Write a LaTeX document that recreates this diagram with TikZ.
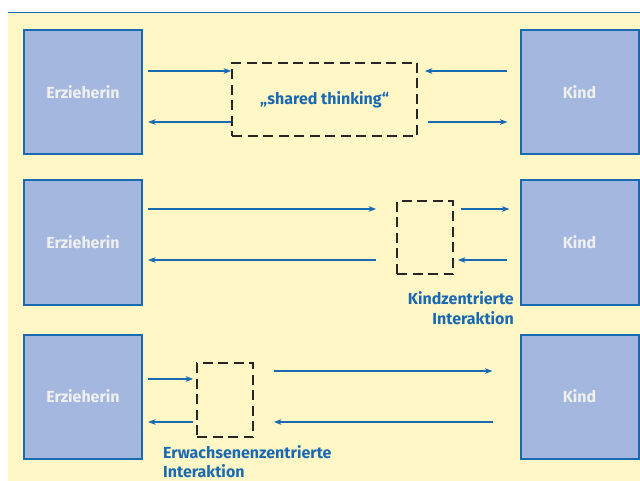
\documentclass[tikz,border=0pt]{standalone}
\usepackage{fontspec}
\setmainfont{Fira Sans}
\usetikzlibrary{arrows.meta}
\definecolor{panelyellow}{HTML}{FFF8C6}
\definecolor{boxblue}{HTML}{A4B7DE}
\definecolor{lineblue}{HTML}{1A69B3}
\begin{document}
\begin{tikzpicture}[x=1pt,y=-1pt,
    person/.style={draw=lineblue, line width=2pt, fill=boxblue,
      minimum width=118pt, minimum height=124pt, inner sep=0pt,
      text=white!94!black, font=\bfseries\fontsize{16}{19}\selectfont},
    zone/.style={draw=black!85, line width=1.6pt, dash pattern=on 10pt off 5.5pt,
      inner sep=0pt},
    flow/.style={-{Stealth[length=7.5pt,width=5.5pt,inset=2pt]}, lineblue,
      line width=1.4pt},
    caption/.style={text=lineblue, inner sep=0pt,
      font=\bfseries\fontsize{16}{19.5}\selectfont}]
  \useasboundingbox (0,0) rectangle (640,481);
  % panel
  \fill[panelyellow] (8,13) rectangle (640,481);
  \draw[lineblue, line width=1.5pt] (8,12.5) -- (640,12.5);
  % the two sides, one row per kind of interaction
  \foreach \r/\y in {1/92,2/242.5,3/396.5}{
    \node[person] (e\r) at (83,\y) {Erzieherin};
    \node[person] (k\r) at (579.5,\y) {Kind};
  }
  % shared zones
  \node[zone, minimum width=185pt, minimum height=73pt, text=lineblue,
    font=\bfseries\fontsize{16}{19}\selectfont] (s1) at (324.5,99.5)
    {„shared thinking“};
  \node[zone, minimum width=56pt, minimum height=73pt] (s2) at (425,237.5) {};
  \node[zone, minimum width=56pt, minimum height=74pt] (s3) at (225,400) {};
  % row 1
  \draw[flow, shorten <=5pt] (e1.east |- 0,71) -- (s1.west |- 0,71);
  \draw[flow, shorten <=13pt, shorten >=7pt] (k1.west |- 0,71) -- (s1.east |- 0,71);
  \draw[flow, shorten >=5pt] (s1.west |- 0,122) -- (e1.east |- 0,122);
  \draw[flow, shorten <=10pt, shorten >=12pt] (s1.east |- 0,122) -- (k1.west |- 0,122);
  % row 2
  \draw[flow, shorten <=5pt, shorten >=20pt] (e2.east |- 0,209) -- (s2.west |- 0,209);
  \draw[flow, shorten <=7pt, shorten >=10pt] (s2.east |- 0,209) -- (k2.west |- 0,209);
  \draw[flow, shorten <=13pt, shorten >=4pt] (k2.west |- 0,260) -- (s2.east |- 0,260);
  \draw[flow, shorten <=20pt, shorten >=5pt] (s2.west |- 0,260) -- (e2.east |- 0,260);
  % row 3
  \draw[flow, shorten <=5pt, shorten >=3pt] (e3.east |- 0,379) -- (s3.west |- 0,379);
  \draw[flow, shorten <=20pt, shorten >=27pt] (s3.east |- 0,371) -- (k3.west |- 0,371);
  \draw[flow, shorten <=27pt, shorten >=20pt] (k3.west |- 0,422) -- (s3.east |- 0,422);
  \draw[flow, shorten <=3pt, shorten >=5pt] (s3.west |- 0,422) -- (e3.east |- 0,422);
  % captions
  \node[caption, anchor=east, align=right] (kcap) at (514,308)
    {Kindzentrierte\\Interaktion};
  \node[caption, anchor=west, align=left] (ecap) at (163,461.5)
    {Erwachsenenzentrierte\\Interaktion};
\end{tikzpicture}
\end{document}
